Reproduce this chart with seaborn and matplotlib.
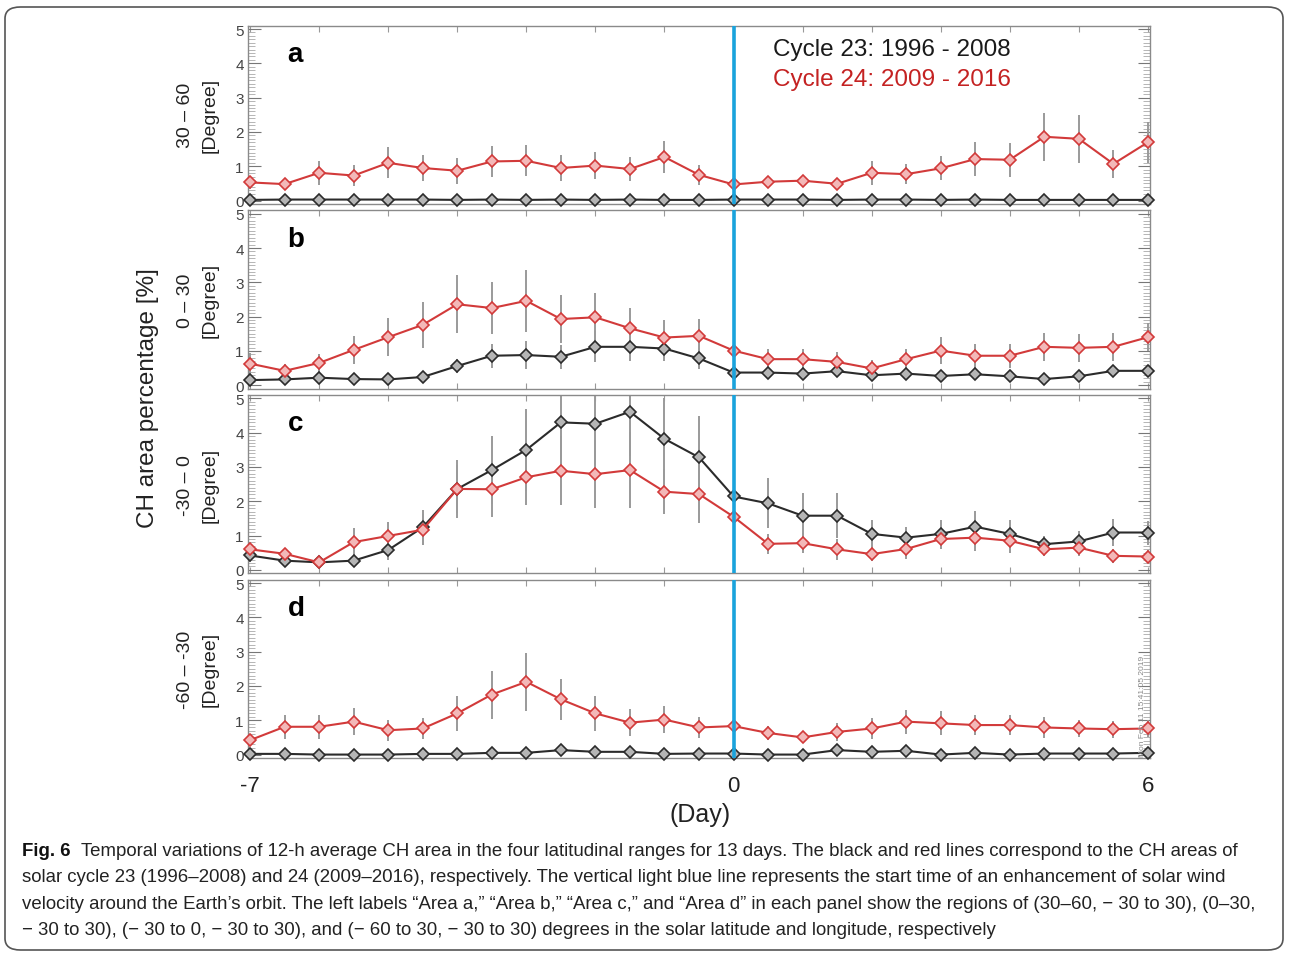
import numpy as np
import pandas as pd
import matplotlib
matplotlib.use("Agg")
import matplotlib.pyplot as plt
import seaborn as sns
from matplotlib import font_manager as fm
from matplotlib.patches import FancyBboxPatch
from matplotlib.ticker import MultipleLocator, FixedLocator, FuncFormatter

# ---------------- data ----------------
days = [-7 + 0.5 * i for i in range(27)]
cycles = ["Cycle 23: 1996 - 2008", "Cycle 24: 2009 - 2016"]
panel_letters = ["a", "b", "c", "d"]
panel_ranges = ["30 \u2013 60", "0 \u2013 30", "-30 \u2013 0", "-60 \u2013 -30"]

a_c23 = [0.02, 0.03, 0.03, 0.03, 0.03, 0.03, 0.02, 0.03, 0.02, 0.03, 0.02, 0.03, 0.02, 0.02,
         0.03, 0.03, 0.03, 0.02, 0.03, 0.03, 0.02, 0.03, 0.02, 0.02, 0.02, 0.02, 0.02]
a_c24 = [0.53, 0.48, 0.81, 0.73, 1.10, 0.95, 0.87, 1.14, 1.16, 0.95, 1.02, 0.92, 1.27, 0.75,
         0.47, 0.55, 0.58, 0.49, 0.81, 0.77, 0.94, 1.21, 1.19, 1.86, 1.80, 1.07, 1.70]
a_c23_err = [0.03] * 27
a_c24_err = [0.20, 0.15, 0.35, 0.30, 0.45, 0.38, 0.38, 0.45, 0.45, 0.38, 0.40, 0.35, 0.48, 0.30,
             0.15, 0.15, 0.15, 0.15, 0.35, 0.30, 0.35, 0.50, 0.50, 0.70, 0.70, 0.40, 0.60]

b_c23 = [0.15, 0.17, 0.22, 0.18, 0.17, 0.24, 0.56, 0.86, 0.88, 0.83, 1.12, 1.12, 1.07, 0.78,
         0.37, 0.37, 0.34, 0.41, 0.29, 0.34, 0.27, 0.32, 0.26, 0.18, 0.26, 0.42, 0.42]
b_c24 = [0.63, 0.42, 0.65, 1.03, 1.40, 1.76, 2.36, 2.25, 2.46, 1.93, 1.98, 1.66, 1.39, 1.44,
         1.01, 0.76, 0.76, 0.68, 0.49, 0.76, 1.01, 0.86, 0.86, 1.12, 1.09, 1.12, 1.40]
b_c23_err = [0.08, 0.08, 0.10, 0.10, 0.10, 0.15, 0.20, 0.35, 0.40, 0.35, 0.45, 0.40, 0.35, 0.30,
             0.15, 0.12, 0.12, 0.12, 0.10, 0.12, 0.10, 0.12, 0.10, 0.10, 0.10, 0.12, 0.12]
b_c24_err = [0.30, 0.20, 0.25, 0.40, 0.55, 0.68, 0.85, 0.75, 0.90, 0.70, 0.70, 0.60, 0.50, 0.50,
             0.30, 0.30, 0.30, 0.30, 0.25, 0.30, 0.40, 0.35, 0.35, 0.40, 0.40, 0.40, 0.40]

c_c23 = [0.42, 0.27, 0.22, 0.27, 0.58, 1.24, 2.36, 2.91, 3.50, 4.30, 4.26, 4.61, 3.82, 3.28,
         2.14, 1.94, 1.58, 1.58, 1.05, 0.94, 1.05, 1.26, 1.05, 0.75, 0.83, 1.09, 1.09]
c_c24 = [0.60, 0.47, 0.22, 0.81, 0.99, 1.17, 2.36, 2.35, 2.70, 2.89, 2.79, 2.91, 2.28, 2.21,
         1.55, 0.76, 0.78, 0.60, 0.46, 0.61, 0.90, 0.94, 0.85, 0.60, 0.65, 0.41, 0.39]
c_c23_err = [0.20, 0.15, 0.10, 0.15, 0.30, 0.50, 0.85, 1.00, 1.20, 1.20, 1.20, 1.30, 1.20, 1.20,
             0.90, 0.73, 0.65, 0.65, 0.40, 0.30, 0.40, 0.45, 0.40, 0.25, 0.30, 0.40, 0.35]
c_c24_err = [0.20, 0.15, 0.10, 0.40, 0.40, 0.45, 0.70, 0.80, 0.80, 1.00, 1.00, 1.10, 0.65, 0.85,
             0.50, 0.30, 0.30, 0.30, 0.20, 0.30, 0.30, 0.40, 0.35, 0.20, 0.25, 0.20, 0.20]

d_c23 = [0.02, 0.02, 0.00, 0.00, 0.00, 0.02, 0.02, 0.05, 0.05, 0.13, 0.08, 0.08, 0.02, 0.03,
         0.03, 0.00, 0.00, 0.13, 0.08, 0.11, 0.00, 0.05, 0.00, 0.03, 0.03, 0.03, 0.05]
d_c24 = [0.42, 0.81, 0.81, 0.96, 0.71, 0.76, 1.20, 1.75, 2.12, 1.61, 1.20, 0.93, 1.02, 0.79,
         0.83, 0.63, 0.50, 0.66, 0.76, 0.96, 0.91, 0.86, 0.86, 0.79, 0.76, 0.74, 0.76]
d_c23_err = [0.05] * 27
d_c24_err = [0.15, 0.35, 0.35, 0.40, 0.30, 0.30, 0.50, 0.70, 0.85, 0.60, 0.50, 0.40, 0.40, 0.30,
             0.25, 0.20, 0.15, 0.25, 0.30, 0.35, 0.35, 0.30, 0.30, 0.30, 0.25, 0.25, 0.25]

x_labels = {-7: "-7", 0: "0", 6: "6"}
y_ticks = [0, 1, 2, 3, 4, 5]

caption_bold = "Fig. 6"
caption_lines = [
    "Temporal variations of 12-h average CH area in the four latitudinal ranges for 13 days. The black and red lines correspond to the CH areas of",
    "solar cycle 23 (1996\u20132008) and 24 (2009\u20132016), respectively. The vertical light blue line represents the start time of an enhancement of solar wind",
    "velocity around the Earth\u2019s orbit. The left labels \u201cArea a,\u201d \u201cArea b,\u201d \u201cArea c,\u201d and \u201cArea d\u201d in each panel show the regions of (30\u201360, \u2212 30 to 30), (0\u201330,",
    "\u2212 30 to 30), (\u2212 30 to 0, \u2212 30 to 30), and (\u2212 60 to 30, \u2212 30 to 30) degrees in the solar latitude and longitude, respectively",
]

panels = [
    (a_c23, a_c24, a_c23_err, a_c24_err),
    (b_c23, b_c24, b_c23_err, b_c24_err),
    (c_c23, c_c24, c_c23_err, c_c24_err),
    (d_c23, d_c24, d_c23_err, d_c24_err),
]

# ---------------- style ----------------
sns.set_theme(style="white")
names = {f.name for f in fm.fontManager.ttflist}
main_font = "Liberation Sans" if "Liberation Sans" in names else "DejaVu Sans"
narrow_font = "Liberation Sans Narrow" if "Liberation Sans Narrow" in names else main_font
plt.rcParams["font.family"] = [main_font, "DejaVu Sans"]

BLACK = "#2b2b2b"
RED = "#d23a3a"
BLUE = "#1aa3dc"
palette = {cycles[0]: BLACK, cycles[1]: RED}

W, H = 1290, 954
fig = plt.figure(figsize=(W / 100, H / 100), dpi=100)
fig.patch.set_facecolor("white")

def fy(py):
    return 1 - py / H

gs = fig.add_gridspec(4, 1, left=248 / W, right=1150 / W, top=fy(26.6), bottom=fy(759),
                      hspace=0.035)

for i, (c23, c24, e23, e24) in enumerate(panels):
    ax = fig.add_subplot(gs[i])
    df = pd.DataFrame({
        "day": days * 2,
        "value": list(c23) + list(c24),
        "cycle": [cycles[0]] * 27 + [cycles[1]] * 27,
    })
    # error bars
    ax.vlines(days, np.array(c24) - np.array(e24), np.array(c24) + np.array(e24),
              color="#9a9a9a", lw=1.4, zorder=1)
    ax.vlines(days, np.array(c23) - np.array(e23), np.array(c23) + np.array(e23),
              color="#9a9a9a", lw=1.4, zorder=1)
    sns.lineplot(data=df, x="day", y="value", hue="cycle", palette=palette, ax=ax,
                 marker="D", markersize=6.5, markeredgewidth=1.2, lw=1.5,
                 legend=False, zorder=3, clip_on=False)
    for line in ax.get_lines():
        c = line.get_color()
        line.set_markeredgecolor(c)
        line.set_markerfacecolor("#f3b8b8" if c == RED else "#b5b5b5")
        line.set_clip_on(False)
    ax.axvline(0, color=BLUE, lw=2.6, zorder=5)

    ax.set_xlim(-7.03, 6.03)
    ax.set_ylim(-0.1, 5.1)
    ax.set_xlabel("")
    ax.set_ylabel("")
    ax.yaxis.set_major_locator(FixedLocator(y_ticks))
    ax.yaxis.set_minor_locator(MultipleLocator(0.1))
    ax.xaxis.set_major_locator(MultipleLocator(1))
    ax.tick_params(axis="y", which="major", direction="in", length=9, width=0.8,
                   color="#777777", left=True, right=True, labelsize=11,
                   labelcolor="#444444", pad=3)
    ax.tick_params(axis="y", which="minor", direction="in", length=5, width=0.6,
                   color="#aaaaaa", left=True, right=True)
    ax.tick_params(axis="x", which="major", direction="in", length=4, width=0.8,
                   color="#999999", top=True, bottom=True)
    if i == 3:
        ax.xaxis.set_major_formatter(FuncFormatter(lambda v, p: x_labels.get(int(round(v)), "")))
        ax.tick_params(axis="x", labelsize=16, pad=12, labelcolor="#222222")
        for t in ax.get_xticklabels():
            t.set_fontfamily(narrow_font)
    else:
        ax.set_xticklabels([])
    for s in ax.spines.values():
        s.set_color("#8a8a8a")
        s.set_linewidth(1.0)
    ax.text(0.044, 0.84, panel_letters[i], transform=ax.transAxes, fontsize=20,
            fontweight="bold", color="black", va="center", ha="left")
    # panel y labels
    pos = ax.get_position()
    yc = (pos.y0 + pos.y1) / 2
    fig.text(185 / W, yc, panel_ranges[i], rotation=90, ha="center", va="center",
             fontsize=14, color="#222222")
    fig.text(210 / W, yc, "[Degree]", rotation=90, ha="center", va="center",
             fontsize=14, color="#222222")
    if i == 0:
        ax.text(0.582, 0.868, cycles[0], transform=ax.transAxes, fontsize=17.5,
                color="#1a1a1a", va="center", ha="left")
        ax.text(0.582, 0.70, cycles[1], transform=ax.transAxes, fontsize=17.5,
                color="#c42222", va="center", ha="left")
    if i == 3:
        ax.text(1143 / W, fy(757), "Mon Feb 11 15:41:05 2019", transform=fig.transFigure,
                rotation=90, fontsize=6, color="#888888", ha="center", va="bottom")

fig.text(148 / W, fy(398), "CH area percentage [%]", rotation=90, ha="center",
         va="center", fontsize=17.5, color="#222222")
fig.text(700 / W, fy(815), "(Day)", ha="center", va="center", fontsize=18,
         color="#222222", family=narrow_font)

# border
fig.patches.append(FancyBboxPatch((5 / W, fy(951)), (1283 - 5) / W, (951 - 8) / H,
                                  boxstyle="round,pad=0,rounding_size=0.012",
                                  transform=fig.transFigure, fill=False,
                                  edgecolor="#555555", lw=1.2, zorder=10))

# caption: font size chosen so the longest justified line fits the text width
fig.canvas.draw()
renderer = fig.canvas.get_renderer()
x0 = 22 / W
target_w = 1256 - 22
line_ys = [852, 878, 905, 931]
fs = 13.0
for _ in range(4):
    tb = fig.text(x0, 0, caption_bold + "  ", fontsize=fs, fontweight="bold",
                  family=narrow_font)
    wb = tb.get_window_extent(renderer).width
    tb.remove()
    widths = []
    for k in range(3):
        tr = fig.text(0, 0, caption_lines[k], fontsize=fs, family=narrow_font)
        widths.append(tr.get_window_extent(renderer).width + (wb if k == 0 else 0))
        tr.remove()
    fs = fs * target_w / max(widths)
tb = fig.text(x0, fy(line_ys[0]), caption_bold + "  ", fontsize=fs, fontweight="bold",
              family=narrow_font, va="center", ha="left", color="#111111")
wb = tb.get_window_extent(renderer).width
for k, line in enumerate(caption_lines):
    xs = x0 + (wb / W if k == 0 else 0)
    fig.text(xs, fy(line_ys[k]), line, fontsize=fs, family=narrow_font, va="center",
             ha="left", color="#222222")

fig.savefig("out.png", dpi=100, facecolor="white")
